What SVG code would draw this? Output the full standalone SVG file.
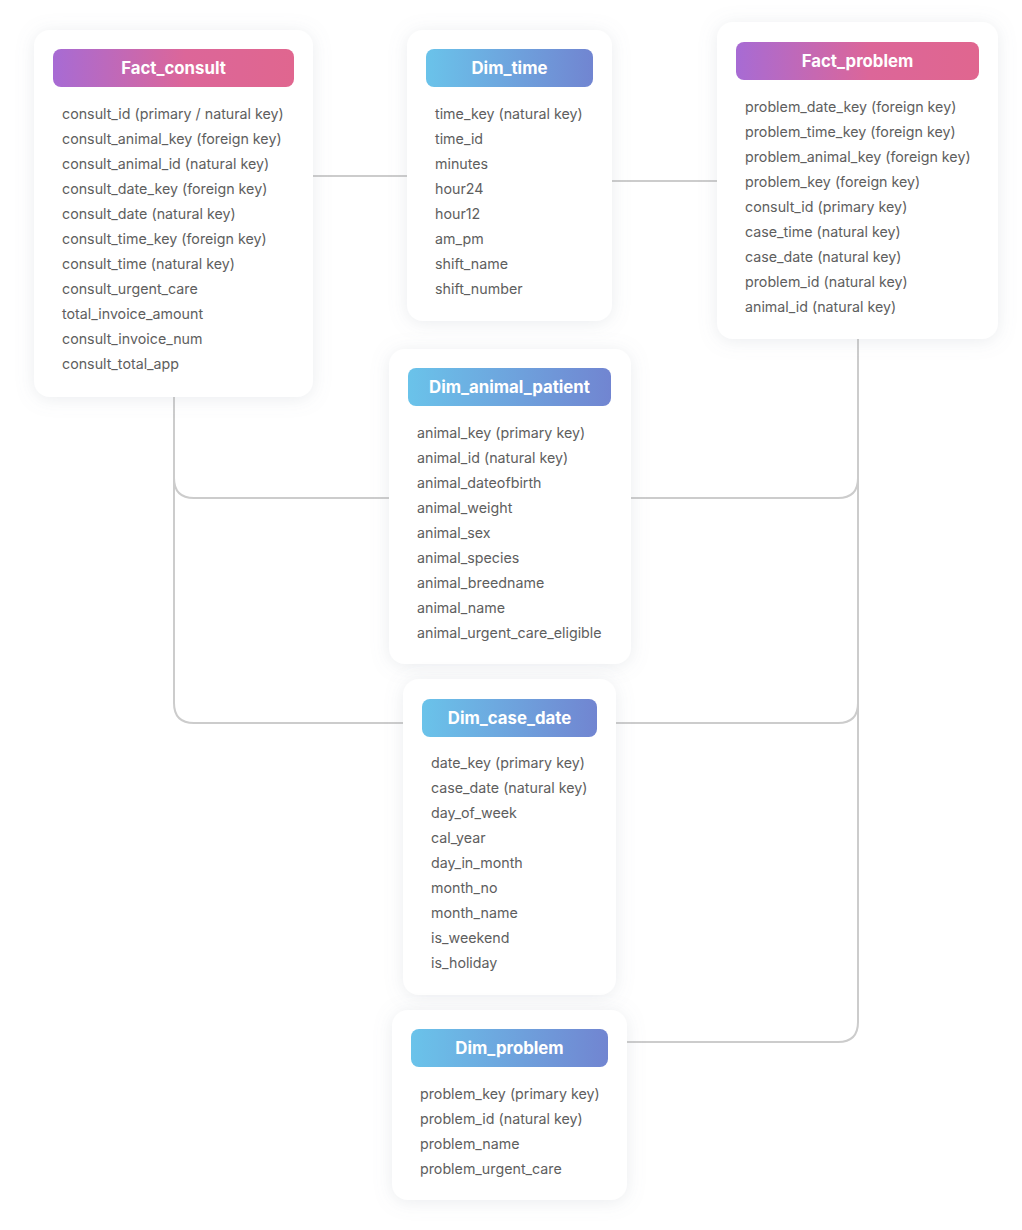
<svg xmlns="http://www.w3.org/2000/svg" width="1022" height="1230" viewBox="0 0 1022 1230">
<defs>
<linearGradient id="gFact" x1="0" y1="0" x2="1" y2="0">
<stop offset="0" stop-color="#a76bd4"/>
<stop offset="0.55" stop-color="#dc6699"/>
<stop offset="1" stop-color="#e0668f"/>
</linearGradient>
<linearGradient id="gDim" x1="0" y1="0" x2="1" y2="0">
<stop offset="0" stop-color="#6ac3ea"/>
<stop offset="1" stop-color="#7185d1"/>
</linearGradient>
<filter id="sh" x="-20%" y="-20%" width="140%" height="140%">
<feDropShadow dx="0" dy="2" stdDeviation="9" flood-color="#8a94a6" flood-opacity="0.18"/>
</filter>
<style>
.card{fill:#ffffff;filter:url(#sh)}
.hdr-t{font-family:Inter,"Liberation Sans",sans-serif;font-size:16.8px;font-weight:700;fill:#ffffff;text-anchor:middle}
.row{font-family:Inter,"Liberation Sans",sans-serif;font-size:14.25px;fill:#5e5e5e}
.conn{fill:none;stroke:#cccccc;stroke-width:2}
</style>
</defs>
<rect width="1022" height="1230" fill="#ffffff"/>
<g id="connectors">
<line class="conn" x1="313" y1="176" x2="407" y2="176"/>
<line class="conn" x1="612" y1="181" x2="717" y2="181"/>
<path class="conn" d="M174 397 V703 Q174 723 194 723 H403"/>
<path class="conn" d="M174 478 Q174 498 194 498 H389"/>
<path class="conn" d="M858 339 V1022 Q858 1042 838 1042 H627"/>
<path class="conn" d="M858 478 Q858 498 838 498 H631"/>
<path class="conn" d="M858 703 Q858 723 838 723 H616"/>
</g>
<g id="Fact_consult">
<rect class="card" x="34" y="30" width="279" height="367" rx="16"/>
<rect x="53" y="49" width="241" height="38" rx="8" fill="url(#gFact)"/>
<text class="hdr-t" x="173.5" y="74">Fact_consult</text>
<text class="row" x="62" y="119">consult_id (primary / natural key)</text>
<text class="row" x="62" y="144">consult_animal_key (foreign key)</text>
<text class="row" x="62" y="169">consult_animal_id (natural key)</text>
<text class="row" x="62" y="194">consult_date_key (foreign key)</text>
<text class="row" x="62" y="219">consult_date (natural key)</text>
<text class="row" x="62" y="244">consult_time_key (foreign key)</text>
<text class="row" x="62" y="269">consult_time (natural key)</text>
<text class="row" x="62" y="294">consult_urgent_care</text>
<text class="row" x="62" y="319">total_invoice_amount</text>
<text class="row" x="62" y="344">consult_invoice_num</text>
<text class="row" x="62" y="369">consult_total_app</text>
</g>
<g id="Dim_time">
<rect class="card" x="407" y="30" width="205" height="291" rx="16"/>
<rect x="426" y="49" width="167" height="38" rx="8" fill="url(#gDim)"/>
<text class="hdr-t" x="509.5" y="74">Dim_time</text>
<text class="row" x="435" y="119">time_key (natural key)</text>
<text class="row" x="435" y="144">time_id</text>
<text class="row" x="435" y="169">minutes</text>
<text class="row" x="435" y="194">hour24</text>
<text class="row" x="435" y="219">hour12</text>
<text class="row" x="435" y="244">am_pm</text>
<text class="row" x="435" y="269">shift_name</text>
<text class="row" x="435" y="294">shift_number</text>
</g>
<g id="Fact_problem">
<rect class="card" x="717" y="22" width="281" height="317" rx="16"/>
<rect x="736" y="42" width="243" height="38" rx="8" fill="url(#gFact)"/>
<text class="hdr-t" x="857.5" y="67">Fact_problem</text>
<text class="row" x="745" y="112">problem_date_key (foreign key)</text>
<text class="row" x="745" y="137">problem_time_key (foreign key)</text>
<text class="row" x="745" y="162">problem_animal_key (foreign key)</text>
<text class="row" x="745" y="187">problem_key (foreign key)</text>
<text class="row" x="745" y="212">consult_id (primary key)</text>
<text class="row" x="745" y="237">case_time (natural key)</text>
<text class="row" x="745" y="262">case_date (natural key)</text>
<text class="row" x="745" y="287">problem_id (natural key)</text>
<text class="row" x="745" y="312">animal_id (natural key)</text>
</g>
<g id="Dim_animal_patient">
<rect class="card" x="389" y="349" width="242" height="315" rx="16"/>
<rect x="408" y="368" width="203" height="38" rx="8" fill="url(#gDim)"/>
<text class="hdr-t" x="509.5" y="393">Dim_animal_patient</text>
<text class="row" x="417" y="438">animal_key (primary key)</text>
<text class="row" x="417" y="463">animal_id (natural key)</text>
<text class="row" x="417" y="488">animal_dateofbirth</text>
<text class="row" x="417" y="513">animal_weight</text>
<text class="row" x="417" y="538">animal_sex</text>
<text class="row" x="417" y="563">animal_species</text>
<text class="row" x="417" y="588">animal_breedname</text>
<text class="row" x="417" y="613">animal_name</text>
<text class="row" x="417" y="638">animal_urgent_care_eligible</text>
</g>
<g id="Dim_case_date">
<rect class="card" x="403" y="679" width="213" height="316" rx="16"/>
<rect x="422" y="699" width="175" height="38" rx="8" fill="url(#gDim)"/>
<text class="hdr-t" x="509.5" y="724">Dim_case_date</text>
<text class="row" x="431" y="768">date_key (primary key)</text>
<text class="row" x="431" y="793">case_date (natural key)</text>
<text class="row" x="431" y="818">day_of_week</text>
<text class="row" x="431" y="843">cal_year</text>
<text class="row" x="431" y="868">day_in_month</text>
<text class="row" x="431" y="893">month_no</text>
<text class="row" x="431" y="918">month_name</text>
<text class="row" x="431" y="943">is_weekend</text>
<text class="row" x="431" y="968">is_holiday</text>
</g>
<g id="Dim_problem">
<rect class="card" x="392" y="1010" width="235" height="190" rx="16"/>
<rect x="411" y="1029" width="197" height="38" rx="8" fill="url(#gDim)"/>
<text class="hdr-t" x="509.5" y="1054">Dim_problem</text>
<text class="row" x="420" y="1099">problem_key (primary key)</text>
<text class="row" x="420" y="1124">problem_id (natural key)</text>
<text class="row" x="420" y="1149">problem_name</text>
<text class="row" x="420" y="1174">problem_urgent_care</text>
</g>
</svg>
